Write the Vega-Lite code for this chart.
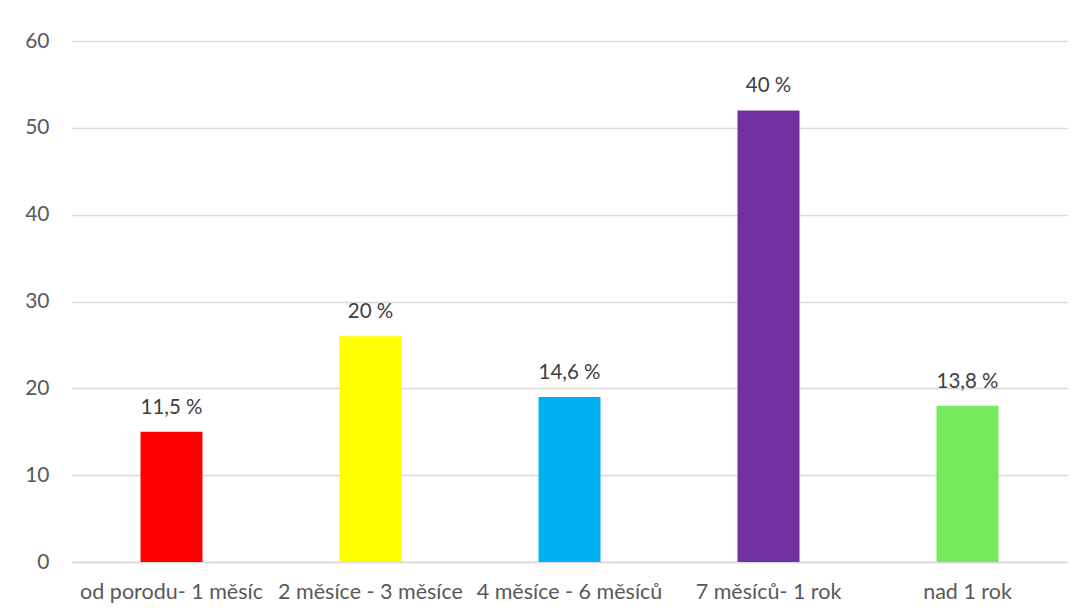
{
  "$schema": "https://vega.github.io/schema/vega-lite/v6.json",
  "autosize": {"type": "none"},
  "width": 995,
  "height": 521,
  "padding": {"left": 72, "top": 41, "right": 23, "bottom": 53},
  "background": "white",
  "config": {
    "view": {"stroke": null},
    "font": "Lato"
  },
  "data": {
    "values": [
      {"kategorie": "od porodu- 1 měsíc", "pocet": 15, "podil": "11,5 %", "barva": "#FF0000"},
      {"kategorie": "2 měsíce - 3 měsíce", "pocet": 26, "podil": "20 %", "barva": "#FFFF00"},
      {"kategorie": "4 měsíce - 6 měsíců", "pocet": 19, "podil": "14,6 %", "barva": "#00B0F0"},
      {"kategorie": "7 měsíců- 1 rok", "pocet": 52, "podil": "40 %", "barva": "#7030A0"},
      {"kategorie": "nad 1 rok", "pocet": 18, "podil": "13,8 %", "barva": "#77EA5B"}
    ]
  },
  "encoding": {
    "x": {
      "field": "kategorie",
      "type": "nominal",
      "sort": null,
      "scale": {"paddingInner": 0.6884, "paddingOuter": 0.3442},
      "axis": {
        "title": null,
        "labelAngle": 0,
        "labelFontSize": 21.5,
        "labelColor": "#595959",
        "labelPadding": 19,
        "labelLimit": 300,
        "labelOverlap": false,
        "ticks": false,
        "domain": true,
        "domainColor": "#d9d9d9",
        "domainWidth": 1.5
      }
    },
    "y": {
      "field": "pocet",
      "type": "quantitative",
      "scale": {"domain": [0, 60], "nice": false},
      "axis": {
        "title": null,
        "values": [0, 10, 20, 30, 40, 50, 60],
        "labelFontSize": 21,
        "labelColor": "#595959",
        "labelPadding": 23,
        "ticks": false,
        "domain": false,
        "gridColor": "#d9d9d9",
        "gridWidth": 1.5
      }
    }
  },
  "layer": [
    {
      "mark": {"type": "bar"},
      "encoding": {
        "color": {"field": "barva", "type": "nominal", "scale": null, "legend": null}
      }
    },
    {
      "mark": {"type": "text", "baseline": "alphabetic", "dy": -18, "fontSize": 20.5, "color": "#404040"},
      "encoding": {
        "text": {"field": "podil", "type": "nominal"}
      }
    }
  ]
}
